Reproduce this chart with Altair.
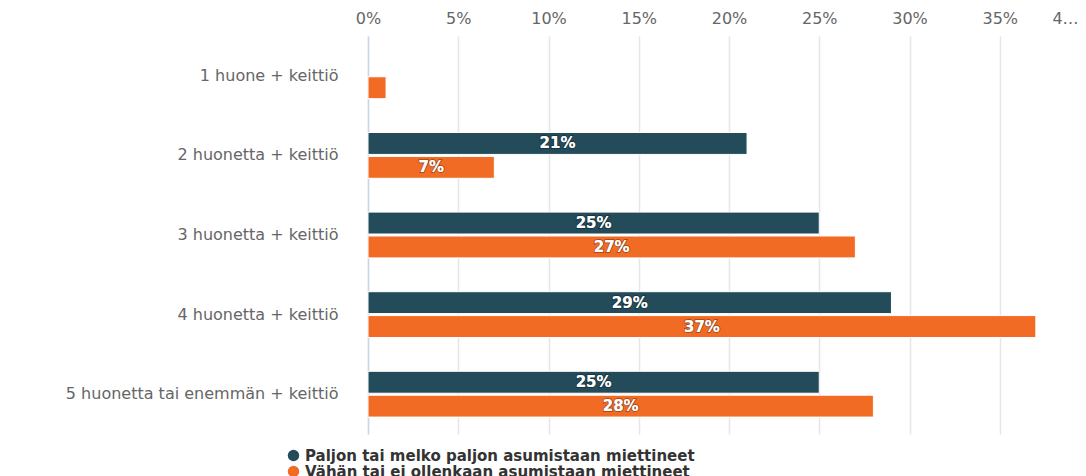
import altair as alt
import pandas as pd

categories = [
    "1 huone + keittiö",
    "2 huonetta + keittiö",
    "3 huonetta + keittiö",
    "4 huonetta + keittiö",
    "5 huonetta tai enemmän + keittiö",
]
series_names = [
    "Paljon tai melko paljon asumistaan miettineet",
    "Vähän tai ei ollenkaan asumistaan miettineet",
]
paljon = [None, 21, 25, 29, 25]
vahan = [1, 7, 27, 37, 28]
colors = ["#234B5A", "#F26B24"]
x_ticks = [0, 5, 10, 15, 20, 25, 30, 35, 40]

rows = []
for cat, a, b in zip(categories, paljon, vahan):
    if a is not None:
        rows.append({"cat": cat, "series": series_names[0], "value": a})
    if b is not None:
        rows.append({"cat": cat, "series": series_names[1], "value": b})
df = pd.DataFrame(rows)

FONT = "DejaVu Sans"

y_enc = alt.Y(
    "cat:N",
    sort=categories,
    scale=alt.Scale(paddingInner=0, paddingOuter=0),
    axis=alt.Axis(
        title=None,
        ticks=False,
        labelPadding=30,
        labelFont=FONT,
        labelFontSize=16,
        labelColor="#666666",
        labelLimit=400,
        domainColor="#ccd6eb",
        domainWidth=1.5,
        grid=False,
    ),
)
yoff_enc = alt.YOffset(
    "series:N",
    sort=series_names,
    scale=alt.Scale(domain=series_names, paddingInner=0.083, paddingOuter=0.708),
)

x_scale = alt.Scale(domain=[0, 40], range=[0, 722], nice=False)

bars = alt.Chart(df).mark_bar(stroke="#ffffff", strokeWidth=1).encode(
    x=alt.X(
        "value:Q",
        scale=x_scale,
        axis=alt.Axis(
            orient="top",
            title=None,
            values=x_ticks,
            labelExpr="datum.value == 40 ? '4…' : datum.value + '%'",
            labelFlush=False,
            labelOffset={"condition": {"test": "datum.value == 40", "value": -25}, "value": 0},
            labelFont=FONT,
            labelFontSize=16,
            labelColor="#666666",
            labelPadding=10,
            ticks=False,
            domain=False,
            grid=True,
            gridColor="#e6e6e6",
            gridWidth=1.5,
        ),
    ),
    y=y_enc,
    yOffset=yoff_enc,
    color=alt.Color(
        "series:N",
        sort=series_names,
        scale=alt.Scale(domain=series_names, range=colors),
        legend=alt.Legend(
            title=None,
            orient="none",
            legendX=-82,
            legendY=412,
            direction="vertical",
            symbolType="circle",
            symbolSize=130,
            symbolStrokeWidth=0,
            labelFont=FONT,
            labelFontSize=15,
            labelFontWeight="bold",
            labelColor="#333333",
            labelLimit=900,
            rowPadding=-3,
            padding=0,
        ),
    ),
)

text_base = (
    alt.Chart(df)
    .transform_filter("datum.value >= 5")
    .transform_calculate(mid="datum.value / 2", label="datum.value + '%'")
    .encode(
        x=alt.X("mid:Q", scale=x_scale),
        y=y_enc,
        yOffset=yoff_enc,
        text="label:N",
    )
)
outline = text_base.mark_text(
    align="center", baseline="middle", font=FONT, fontSize=15, fontWeight="bold",
    fill="#ffffff", stroke="#000000", strokeWidth=2, strokeOpacity=0.3,
)
labels = text_base.mark_text(
    align="center", baseline="middle", font=FONT, fontSize=15, fontWeight="bold",
    fill="#ffffff",
)

chart = (
    alt.layer(bars, outline, labels)
    .properties(
        width=705,
        height=398,
        autosize=alt.AutoSizeParams(type="none"),
        padding={"left": 360, "top": 28, "right": 5, "bottom": 42},
        background="#ffffff",
    )
    .configure_view(stroke=None)
)

chart.save("out.html", embed_options={"renderer": "svg", "actions": False})
